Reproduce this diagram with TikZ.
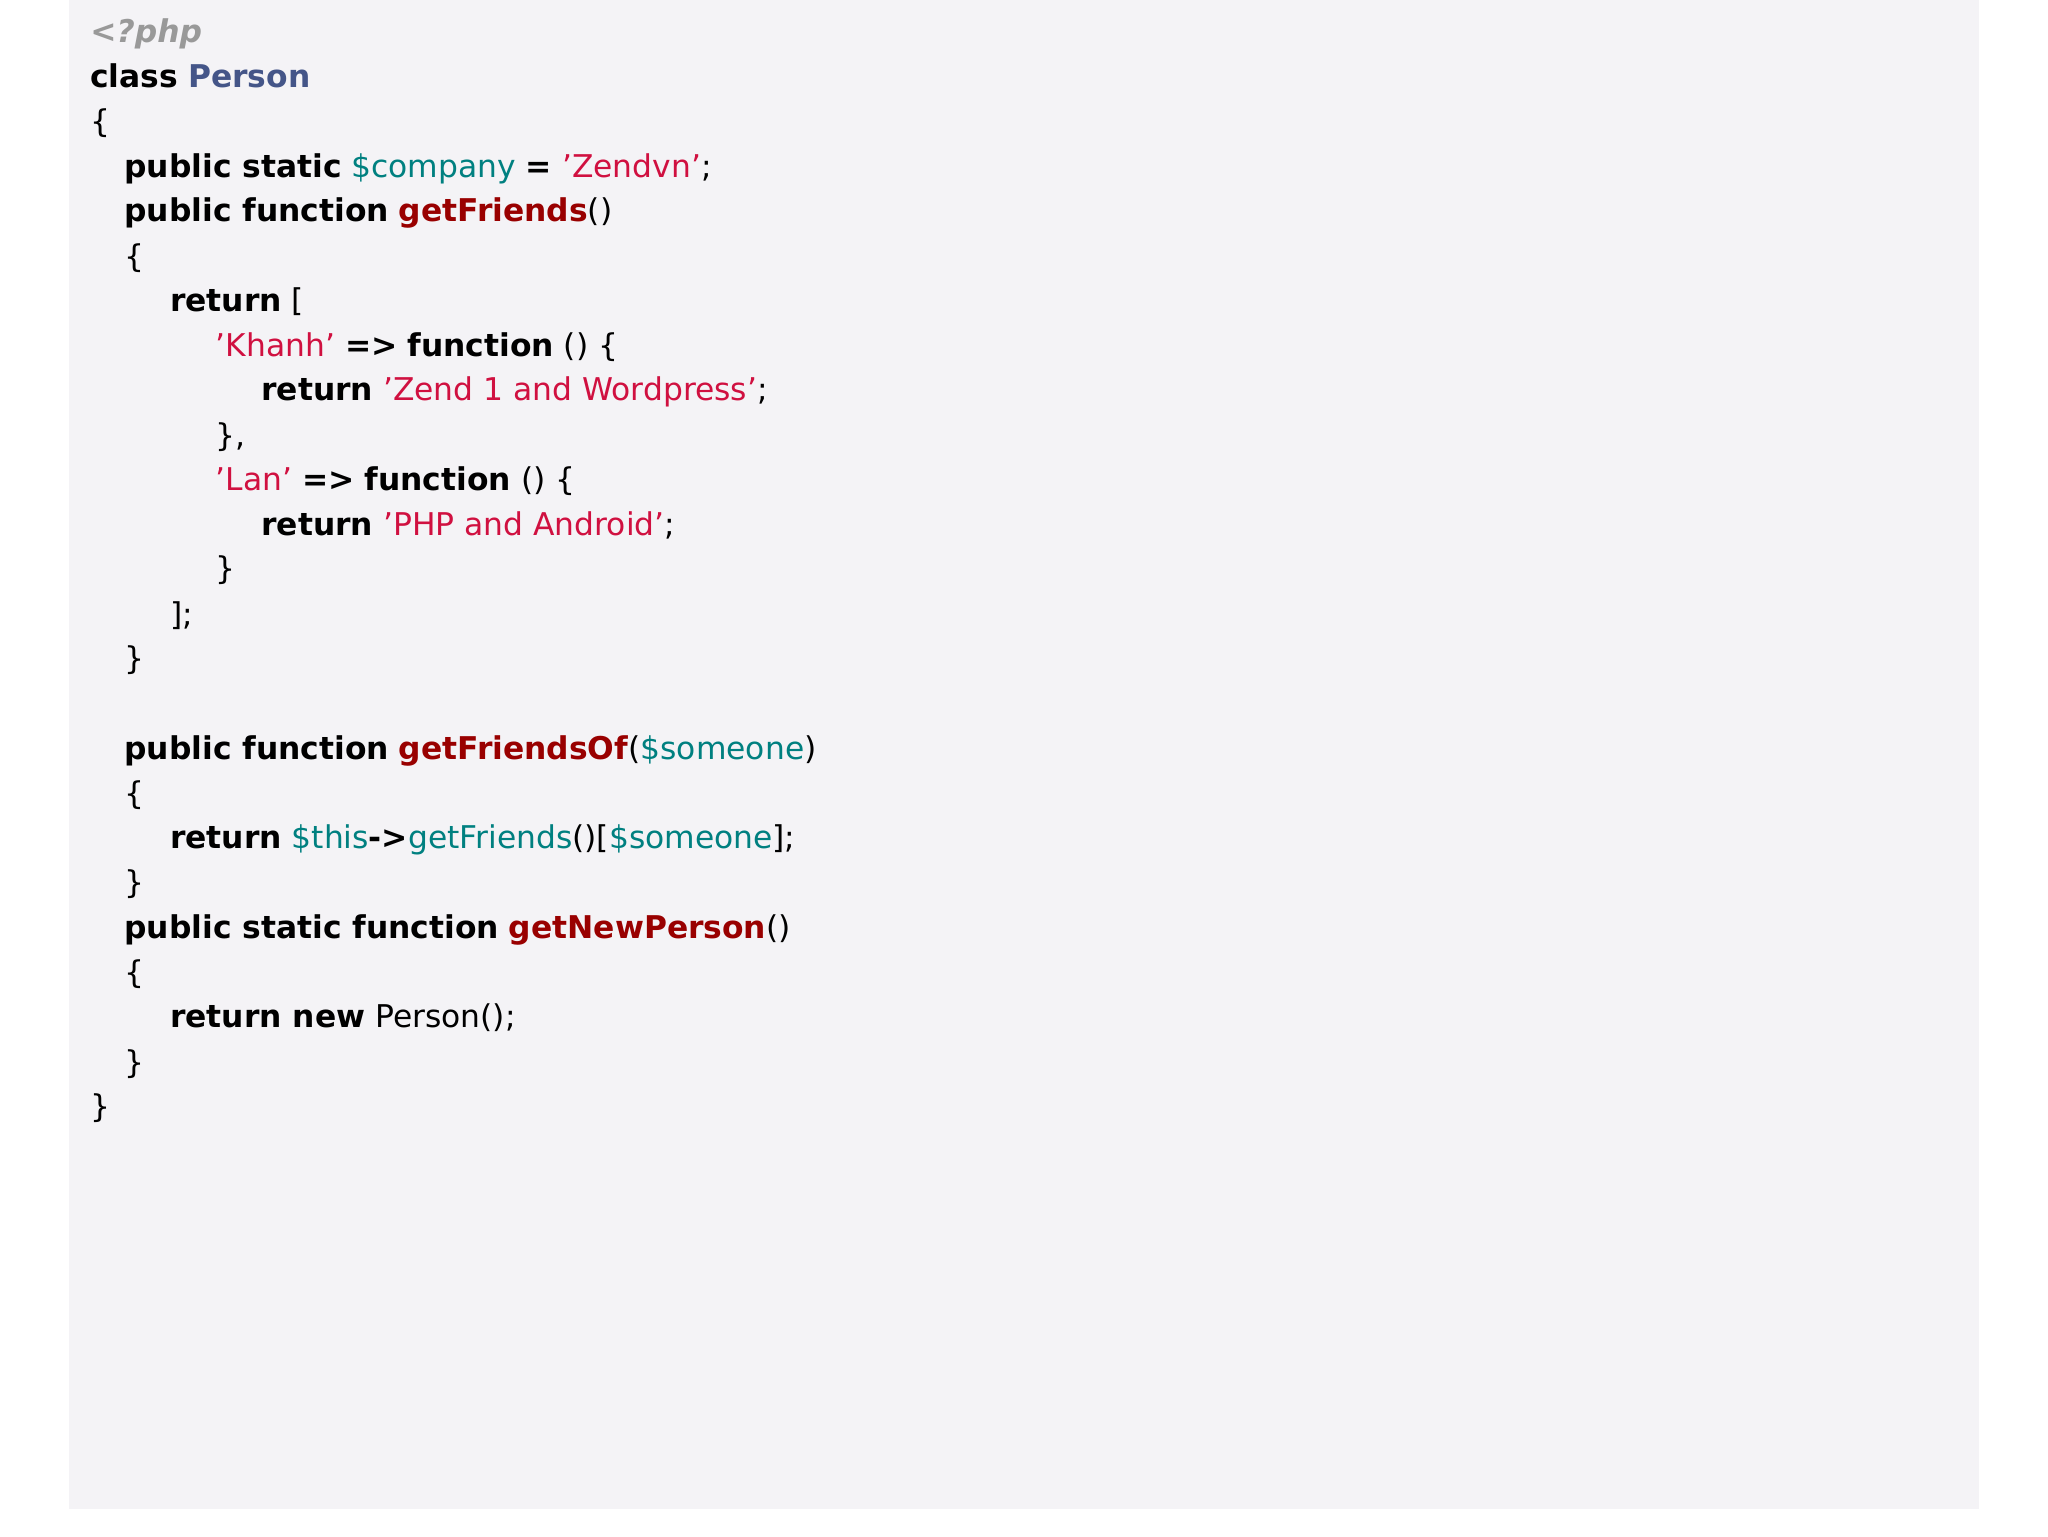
\documentclass[tikz,border=0pt]{standalone}
\usepackage{fontspec}
\setmainfont{DejaVu Sans}
\definecolor{bg}{HTML}{F4F3F6}
\definecolor{cls}{HTML}{445588}
\definecolor{var}{HTML}{008080}
\definecolor{str}{HTML}{D01040}
\definecolor{fn}{HTML}{990000}
\definecolor{cmt}{HTML}{999999}
\newcommand{\K}[1]{\textbf{#1}}
\newcommand{\V}[1]{\textcolor{var}{#1}}
\newcommand{\Sq}[1]{\textcolor{str}{#1}}
\newcommand{\F}[1]{\textcolor{fn}{\textbf{#1}}}
\tikzset{ln/.style={anchor=mid west,inner sep=0pt,font=\fontsize{24}{24}\selectfont}}
\begin{document}
\begin{tikzpicture}[x=1pt,y=-1pt]
\useasboundingbox (0,0) rectangle (1568,1176);
\fill[bg] (53,0) rectangle (1515,1155);
\node[ln] (l1) at (69,30) {\textcolor{cmt}{\textbf{\textit{<?php}}}};
\node[ln] (l2) at (69,64) {\K{class} \textcolor{cls}{\textbf{Person}}};
\node[ln] (l3) at (69,99) {\{};
\node[ln] (l4) at (95,133) {\K{public static} \V{\$company} \K{=} \Sq{'Zendvn'};};
\node[ln] (l5) at (95,167) {\K{public function} \F{getFriends}()};
\node[ln] (l6) at (95,202) {\{};
\node[ln] (l7) at (130,236) {\K{return} [};
\node[ln] (l8) at (165,270) {\Sq{'Khanh'} \K{=>} \K{function} () \{};
\node[ln] (l9) at (200,304) {\K{return} \Sq{'Zend 1 and Wordpress'};};
\node[ln] (l10) at (165,339) {\},};
\node[ln] (l11) at (165,373) {\Sq{'Lan'} \K{=>} \K{function} () \{};
\node[ln] (l12) at (200,407) {\K{return} \Sq{'PHP and Android'};};
\node[ln] (l13) at (165,441) {\}};
\node[ln] (l14) at (130,476) {];};
\node[ln] (l15) at (95,510) {\}};
\node[ln] (l16) at (95,579) {\K{public function} \F{getFriendsOf}(\V{\$someone})};
\node[ln] (l17) at (95,613) {\{};
\node[ln] (l18) at (130,647) {\K{return} \V{\$this}\K{->}\V{getFriends}()[\V{\$someone}];};
\node[ln] (l19) at (95,681) {\}};
\node[ln] (l20) at (95,716) {\K{public static function} \F{getNewPerson}()};
\node[ln] (l21) at (95,750) {\{};
\node[ln] (l22) at (130,784) {\K{return new} Person();};
\node[ln] (l23) at (95,819) {\}};
\node[ln] (l24) at (69,853) {\}};
\end{tikzpicture}
\end{document}
